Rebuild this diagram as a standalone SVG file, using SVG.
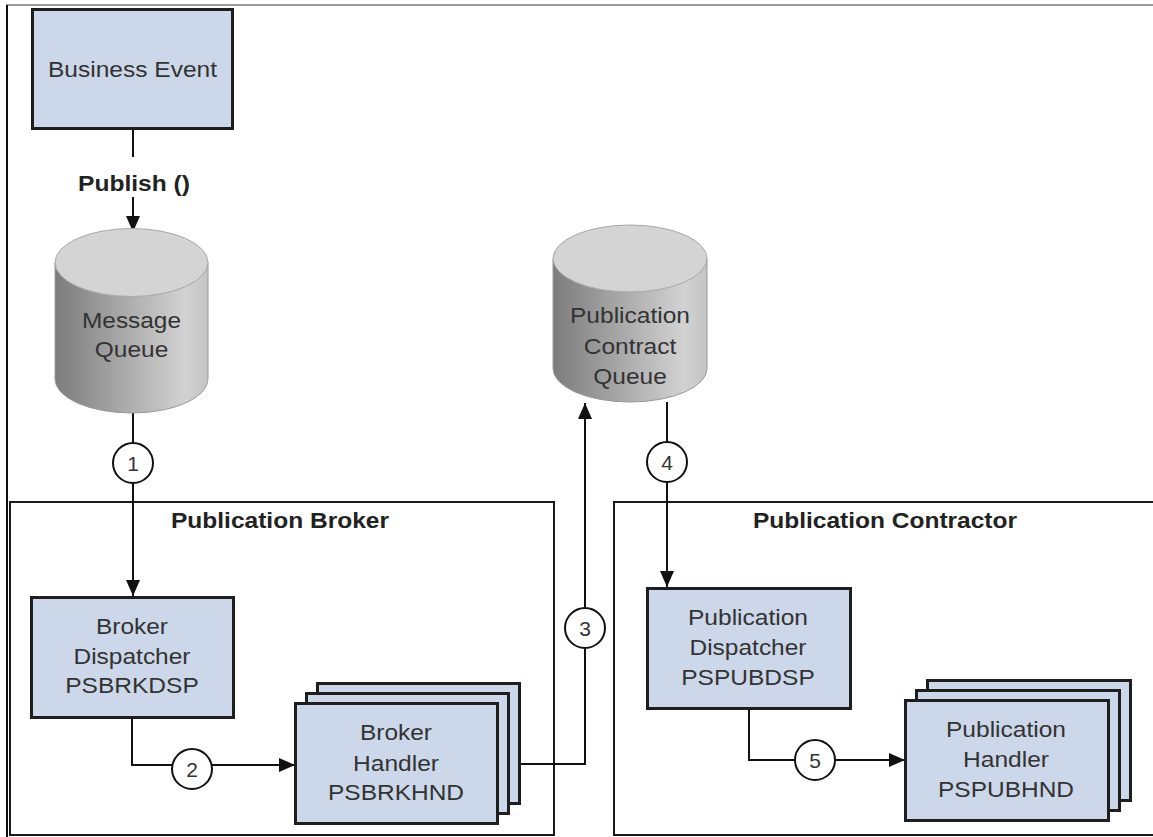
<svg xmlns="http://www.w3.org/2000/svg" width="1153" height="837" viewBox="0 0 1153 837">
<style>
.box{fill:#ccd8ea;stroke:#1e1e1e;stroke-width:3}
.grp{fill:none;stroke:#1a1a1a;stroke-width:2}
.t{font-family:"Liberation Sans",Arial,sans-serif;font-size:22px;fill:#333;text-anchor:middle}
.b{font-family:"Liberation Sans",Arial,sans-serif;font-size:21.5px;font-weight:bold;fill:#222;text-anchor:middle}
.n{font-family:"Liberation Sans",Arial,sans-serif;font-size:21px;fill:#333;text-anchor:middle}
.ln{fill:none;stroke:#111;stroke-width:2}
.num{fill:#fff;stroke:#111;stroke-width:2}
.cylside{fill:url(#cylg);stroke:#9a9a9a;stroke-width:1}
.cyltop{fill:#d4d4d4;stroke:#a8a8a8;stroke-width:1}
</style>
<defs>
<linearGradient id="cylg" x1="0" y1="0" x2="1" y2="0">
<stop offset="0" stop-color="#7c7c7c"/>
<stop offset="0.85" stop-color="#d2d2d2"/>
<stop offset="1" stop-color="#c4c4c4"/>
</linearGradient>
<marker id="ah" markerUnits="userSpaceOnUse" markerWidth="16" markerHeight="14" refX="16" refY="7" orient="auto">
<path d="M0,0 L16,7 L0,14 z" fill="#111"/>
</marker>
</defs>
<rect width="1153" height="837" fill="#fff"/>
<line x1="6" y1="5" x2="1153" y2="5" stroke="#9a9a9a" stroke-width="2"/>
<line x1="7" y1="5" x2="7" y2="837" stroke="#111" stroke-width="2"/>

<g id="publication-broker">
<rect class="grp" x="10" y="502" width="544" height="333"/>
<text class="b" x="280" y="528" textLength="218" lengthAdjust="spacingAndGlyphs">Publication Broker</text>
</g>
<g id="publication-contractor">
<rect class="grp" x="614" y="502" width="600" height="333"/>
<text class="b" x="885" y="528" textLength="264" lengthAdjust="spacingAndGlyphs">Publication Contractor</text>
</g>

<g id="connectors">
<line class="ln" x1="133" y1="129" x2="133" y2="157"/>
<line class="ln" x1="133" y1="197" x2="133" y2="232" marker-end="url(#ah)"/>
<line class="ln" x1="133" y1="413" x2="133" y2="596" marker-end="url(#ah)"/>
<polyline class="ln" points="132,718 132,765 295,765" marker-end="url(#ah)"/>
<polyline class="ln" points="497,764 585,764 585,403" marker-end="url(#ah)"/>
<line class="ln" x1="667" y1="402" x2="667" y2="587" marker-end="url(#ah)"/>
<polyline class="ln" points="749,708 749,760 905,760" marker-end="url(#ah)"/>
<circle class="num" cx="133" cy="463" r="20"/>
<text class="n" x="133" y="470.5">1</text>
<circle class="num" cx="192" cy="769" r="20"/>
<text class="n" x="192" y="776.5">2</text>
<circle class="num" cx="585" cy="628" r="20"/>
<text class="n" x="585" y="635.5">3</text>
<circle class="num" cx="667" cy="462" r="20"/>
<text class="n" x="667" y="469.5">4</text>
<circle class="num" cx="815" cy="760" r="20"/>
<text class="n" x="815" y="767.5">5</text>
<text class="b" x="134" y="191" textLength="112" lengthAdjust="spacingAndGlyphs">Publish ()</text>
</g>

<g id="business-event">
<rect class="box" x="32.5" y="9.5" width="200" height="119"/>
<text class="t" x="132.5" y="76.5" textLength="169" lengthAdjust="spacingAndGlyphs">Business Event</text>
</g>

<g id="message-queue">
<path class="cylside" d="M55,262.5 L55,379 A76.5,34 0 0 0 208,379 L208,262.5 z"/>
<ellipse class="cyltop" cx="131.5" cy="262.5" rx="76.5" ry="34"/>
<text class="t" x="131.5" y="328" textLength="99" lengthAdjust="spacingAndGlyphs">Message</text>
<text class="t" x="131.5" y="357" textLength="73.5" lengthAdjust="spacingAndGlyphs">Queue</text>
</g>

<g id="publication-contract-queue">
<path class="cylside" d="M553,258.5 L553,368.5 A77,33.5 0 0 0 707,368.5 L707,258.5 z"/>
<ellipse class="cyltop" cx="630" cy="258.5" rx="77" ry="33.5"/>
<text class="t" x="630" y="323" textLength="120" lengthAdjust="spacingAndGlyphs">Publication</text>
<text class="t" x="630" y="354" textLength="92.6" lengthAdjust="spacingAndGlyphs">Contract</text>
<text class="t" x="630" y="384" textLength="73.5" lengthAdjust="spacingAndGlyphs">Queue</text>
</g>

<g id="broker-dispatcher">
<rect class="box" x="31.5" y="597.5" width="202" height="120"/>
<text class="t" x="132" y="634" textLength="72" lengthAdjust="spacingAndGlyphs">Broker</text>
<text class="t" x="132" y="664" textLength="117" lengthAdjust="spacingAndGlyphs">Dispatcher</text>
<text class="t" x="132" y="693" textLength="133.5" lengthAdjust="spacingAndGlyphs">PSBRKDSP</text>
</g>

<g id="broker-handler">
<rect class="box" x="317.5" y="683.5" width="202" height="120"/>
<rect class="box" x="306.5" y="693.5" width="202" height="120"/>
<rect class="box" x="295.5" y="703.5" width="202" height="120"/>
<text class="t" x="396" y="740" textLength="72" lengthAdjust="spacingAndGlyphs">Broker</text>
<text class="t" x="396" y="771" textLength="86" lengthAdjust="spacingAndGlyphs">Handler</text>
<text class="t" x="396" y="800" textLength="136" lengthAdjust="spacingAndGlyphs">PSBRKHND</text>
</g>

<g id="publication-dispatcher">
<rect class="box" x="647.5" y="588.5" width="203" height="120"/>
<text class="t" x="748" y="625" textLength="120" lengthAdjust="spacingAndGlyphs">Publication</text>
<text class="t" x="748" y="655" textLength="117" lengthAdjust="spacingAndGlyphs">Dispatcher</text>
<text class="t" x="748" y="685" textLength="133.5" lengthAdjust="spacingAndGlyphs">PSPUBDSP</text>
</g>

<g id="publication-handler">
<rect class="box" x="927.5" y="680.5" width="203" height="120"/>
<rect class="box" x="916.5" y="690.5" width="203" height="120"/>
<rect class="box" x="905.5" y="700.5" width="203" height="120"/>
<text class="t" x="1006" y="737" textLength="120" lengthAdjust="spacingAndGlyphs">Publication</text>
<text class="t" x="1006" y="767" textLength="86" lengthAdjust="spacingAndGlyphs">Handler</text>
<text class="t" x="1006" y="797" textLength="136" lengthAdjust="spacingAndGlyphs">PSPUBHND</text>
</g>
</svg>
